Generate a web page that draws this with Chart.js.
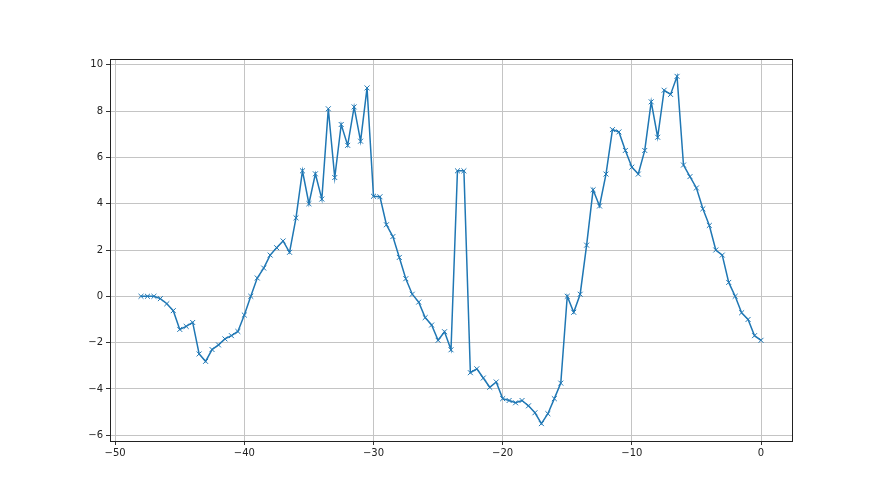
<!DOCTYPE html>
<html>
<head>
<meta charset="utf-8">
<script src="https://cdn.jsdelivr.net/npm/chart.js@4"></script>
<style>
  html, body { margin: 0; padding: 0; background: #fff; }
  #canvas { display: block; }
</style>
</head>
<body>
<canvas id="canvas" width="880" height="495"></canvas>
<script>
// x positions, every half step from -48 to 0
var xs = [
  -48, -47.5, -47, -46.5, -46, -45.5, -45, -44.5, -44, -43.5,
  -43, -42.5, -42, -41.5, -41, -40.5, -40, -39.5, -39, -38.5,
  -38, -37.5, -37, -36.5, -36, -35.5, -35, -34.5, -34, -33.5,
  -33, -32.5, -32, -31.5, -31, -30.5, -30, -29.5, -29, -28.5,
  -28, -27.5, -27, -26.5, -26, -25.5, -25, -24.5, -24, -23.5,
  -23, -22.5, -22, -21.5, -21, -20.5, -20, -19.5, -19, -18.5,
  -18, -17.5, -17, -16.5, -16, -15.5, -15, -14.5, -14, -13.5,
  -13, -12.5, -12, -11.5, -11, -10.5, -10, -9.5, -9, -8.5,
  -8, -7.5, -7, -6.5, -6, -5.5, -5, -4.5, -4, -3.5,
  -3, -2.5, -2, -1.5, -1, -0.5, 0
];

var ys = [
  0, 0, 0, -0.1, -0.32, -0.62, -1.43, -1.3, -1.13, -2.49,
  -2.81, -2.3, -2.1, -1.84, -1.7, -1.52, -0.81, 0, 0.79, 1.22,
  1.78, 2.1, 2.39, 1.9, 3.39, 5.42, 4.0, 5.29, 4.2, 8.1,
  5.13, 7.42, 6.52, 8.18, 6.7, 9.0, 4.32, 4.3, 3.09, 2.58,
  1.68, 0.76, 0.09, -0.25, -0.92, -1.24, -1.9, -1.53, -2.31, 5.42,
  5.42, -3.3, -3.13, -3.53, -3.93, -3.7, -4.42, -4.5, -4.6, -4.5,
  -4.73, -5.03, -5.5, -5.07, -4.42, -3.75, 0, -0.69, 0.09, 2.21,
  4.6, 3.9, 5.28, 7.2, 7.1, 6.3, 5.58, 5.28, 6.3, 8.4,
  6.87, 8.9, 8.72, 9.5, 5.67, 5.17, 4.68, 3.78, 3.06, 2.0,
  1.78, 0.6, 0, -0.71, -1.0, -1.7, -1.9
];

var xTicks = [-50, -40, -30, -20, -10, 0];
var yTicks = [-6, -4, -2, 0, 2, 4, 6, 8, 10];

var points = xs.map(function(x, i){
  return {x: x, y: ys[i]};
});

function minusSign(v){
  return String(v).replace('-', '\u2212');
}

// matplotlib style box around the axes
var boxPlugin = {
  id: 'box',
  afterDraw: function(chart){
    var a = chart.chartArea;
    var c = chart.ctx;
    c.save();
    c.strokeStyle = '#222';
    c.lineWidth = 1;
    c.strokeRect(Math.round(a.left) + 0.5, Math.round(a.top) + 0.5,
      Math.round(a.right - a.left), Math.round(a.bottom - a.top));
    c.restore();
  }
};

var ctx = document.getElementById('canvas');
var myChart = new Chart(ctx, {
  type: 'line',
  data: {
    datasets: [{
      data: points,
      borderColor: '#1f77b4',
      backgroundColor: 'transparent',
      borderWidth: 1.5,
      pointStyle: 'crossRot',
      pointRadius: 3.5,
      pointBorderWidth: 1,
      pointBorderColor: '#1f77b4',
      tension: 0
    }]
  },
  options: {
    responsive: false,
    animation: false,
    layout: {
      padding: {left: 70, right: 88, top: 59, bottom: 24}
    },
    plugins: {
      legend: {display: false},
      tooltip: {enabled: false}
    },
    scales: {
      x: {
        type: 'linear',
        min: -50.4,
        max: 2.4,
        afterFit: function(scale){ scale.height = 30; },
        afterBuildTicks: function(scale){
          scale.ticks = xTicks.map(function(v){ return {value: v}; });
        },
        grid: {
          color: '#c4c4c4',
          lineWidth: 1,
          tickColor: '#333',
          tickLength: 4
        },
        border: {display: false},
        ticks: {
          color: '#222',
          padding: 2,
          maxRotation: 0,
          font: {family: 'DejaVu Sans', size: 10},
          callback: function(v){ return minusSign(v); }
        }
      },
      y: {
        type: 'linear',
        min: -6.25,
        max: 10.25,
        afterFit: function(scale){ scale.width = 40; },
        afterBuildTicks: function(scale){
          scale.ticks = yTicks.map(function(v){ return {value: v}; });
        },
        grid: {
          color: '#c4c4c4',
          lineWidth: 1,
          tickColor: '#333',
          tickLength: 4
        },
        border: {display: false},
        ticks: {
          color: '#222',
          padding: 3,
          font: {family: 'DejaVu Sans', size: 10},
          callback: function(v){ return minusSign(v); }
        }
      }
    }
  },
  plugins: [boxPlugin]
});
</script>
</body>
</html>
